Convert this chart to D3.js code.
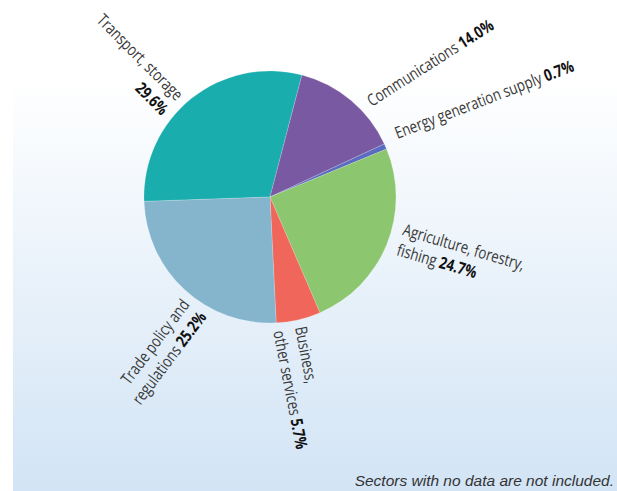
<!DOCTYPE html>
<html>
<head>
<meta charset="utf-8">
<script src="https://cdn.jsdelivr.net/npm/d3@7"></script>
<style>
  html, body { margin: 0; padding: 0; background: #ffffff; }
  svg { display: block; }
</style>
</head>
<body>
<svg id="chart" width="617" height="491"></svg>
<script>
// ---- data ----
const categories = [
  "Transport, storage",
  "Communications",
  "Energy generation supply",
  "Agriculture, forestry, fishing",
  "Business, other services",
  "Trade policy and regulations"
];
const shares = [29.6, 14.0, 0.7, 24.7, 5.7, 25.2];
const labelLines = [
  ["Transport, storage", ""],
  ["Communications"],
  ["Energy generation supply"],
  ["Agriculture, forestry,", "fishing"],
  ["Business,", "other services"],
  ["Trade policy and", "regulations"]
];
const colors = ["#19adad", "#7a59a3", "#5b6cc0", "#8cc66e", "#f0665a", "#84b5cd"];
const footnote = "Sectors with no data are not included.";

// ---- layout ----
const W = 617, H = 491;
const cx = 270, cy = 197, R = 126;
const startDeg = -92;
const labelLayout = [
  { a: -44.5, r: 134, rot: 45,    anchor: "end",   lh: 21 },
  { a: 48.5,  r: 136, rot: -32.5, anchor: "start", lh: 21 },
  { a: 65.5,  r: 140, rot: -21,   anchor: "start", lh: 21 },
  { a: 106,   r: 137, rot: 16.5,  anchor: "start", lh: 21 },
  { a: 169.2, r: 133, rot: 79,    anchor: "start", lh: 22 },
  { a: 216.5, r: 134, rot: -53,   anchor: "end",   lh: 21 }
];
const squeeze = 0.8;
const fontSize = 16.5;

const svg = d3.select("#chart");
const defs = svg.append("defs");
const grad = defs.append("linearGradient").attr("id", "bg")
  .attr("x1", 0).attr("y1", 0).attr("x2", 0).attr("y2", 1);
grad.append("stop").attr("offset", "0%").attr("stop-color", "#ffffff");
grad.append("stop").attr("offset", "100%").attr("stop-color", "#d2e4f5");

svg.append("rect").attr("x", 13).attr("y", 78).attr("width", W - 13).attr("height", H - 78)
  .attr("fill", "url(#bg)");

const toRad = d => d * Math.PI / 180;
const pie = d3.pie().sort(null).value(d => d)
  .startAngle(toRad(startDeg)).endAngle(toRad(startDeg + 360));
const arcs = pie(shares);
const arc = d3.arc().innerRadius(0).outerRadius(R);

const g = svg.append("g").attr("transform", `translate(${cx},${cy})`);
g.selectAll("path.slice").data(arcs).join("path")
  .attr("class", "slice")
  .attr("d", arc)
  .attr("fill", (d, i) => colors[i])
  .attr("stroke", "rgba(255,255,255,0.35)")
  .attr("stroke-width", 0.5);

const fmt = d3.format(".1f");
const labels = g.selectAll("g.lab").data(arcs).join("g")
  .attr("class", "lab")
  .attr("transform", (d, i) => {
    const L = labelLayout[i];
    const t = toRad(L.a);
    const x = L.r * Math.sin(t), y = -L.r * Math.cos(t);
    return `translate(${x},${y}) rotate(${L.rot}) scale(${squeeze},1)`;
  });

labels.each(function(d, i) {
  const L = labelLayout[i];
  const lines = labelLines[i];
  const t = d3.select(this).append("text")
    .attr("text-anchor", L.anchor)
    .attr("font-family", "'Open Sans', 'Noto Sans', sans-serif")
    .attr("font-size", fontSize)
    .attr("fill", "#383838");
  lines.forEach((ln, k) => {
    const last = k === lines.length - 1;
    if (ln) {
      t.append("tspan").attr("x", 0).attr("y", k * L.lh)
        .text(ln + (last ? " " : ""));
    }
    if (last) {
      const b = t.append("tspan").attr("font-weight", "bold").attr("fill", "#111")
        .text(fmt(shares[i]) + "%");
      if (!ln) b.attr("x", 0).attr("y", k * L.lh);
    }
  });
});

svg.append("text")
  .attr("x", 614).attr("y", 486)
  .attr("text-anchor", "end")
  .attr("font-family", "'Liberation Sans', Arial, sans-serif")
  .attr("font-style", "italic")
  .attr("font-size", 15.5)
  .attr("fill", "#333")
  .text(footnote);
</script>
</body>
</html>
